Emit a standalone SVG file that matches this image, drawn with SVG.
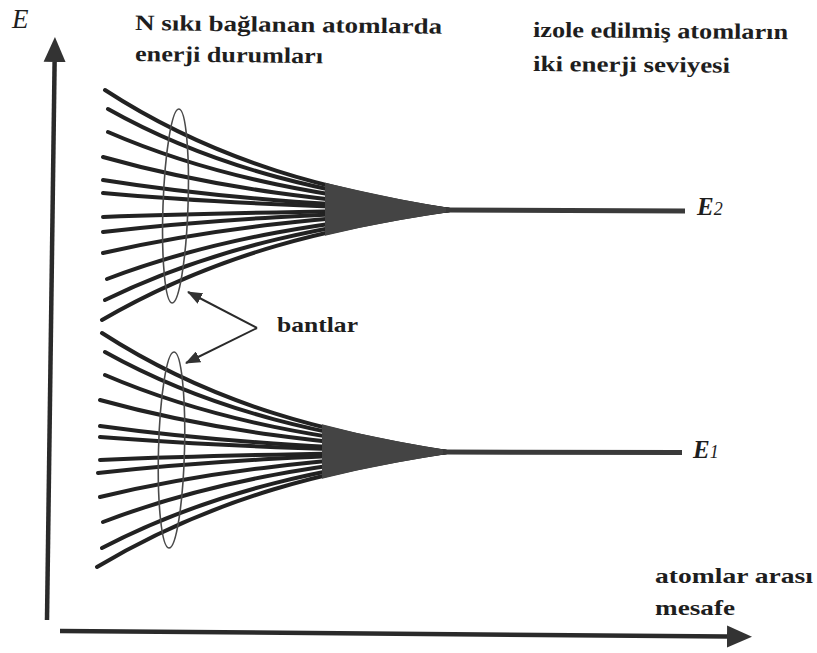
<svg xmlns="http://www.w3.org/2000/svg" width="817" height="653" viewBox="0 0 817 653">
<style>
.lbl{font-family:"Liberation Serif","Times New Roman",serif;font-weight:bold;font-size:22px;fill:#1e1e1e}
.it{font-family:"Liberation Serif","Times New Roman",serif;font-style:italic;fill:#1e1e1e}
.lvl{fill:none;stroke:#222;stroke-width:4;stroke-linecap:round}
.wedge{fill:#444;stroke:none}
.eline{stroke:#3a3a3a;stroke-width:5;fill:none}
.ell{fill:none;stroke:#4a4a4a;stroke-width:1.6}
.axis{stroke:#2a2a2a;stroke-width:4.5;fill:none}
.ptr{stroke:#2a2a2a;stroke-width:2;fill:none}
</style>
<defs>
<marker id="axHead" markerUnits="userSpaceOnUse" viewBox="0 -12 25 24" markerWidth="25" markerHeight="24" refX="0" refY="0" orient="auto">
<path d="M0,-11 L25,0 L0,11 Z" fill="#333"/>
</marker>
<marker id="ptrHead" markerUnits="userSpaceOnUse" viewBox="0 0 15 12" markerWidth="15" markerHeight="12" refX="14" refY="6" orient="auto">
<path d="M0,0 L15,6 L0,12 Z" fill="#333"/>
</marker>
</defs>

<g id="axes">
<path class="axis" d="M47,620 L54.6,62" marker-end="url(#axHead)"/>
<path class="axis" d="M60,631 L727,636.5" marker-end="url(#axHead)"/>
</g>

<g id="upper-band">
<path class="lvl" d="M105,90 C218.7,164 334.3,191.5 450,210"/>
<path class="lvl" d="M108,109 C218.7,171.3 334.3,194.4 450,210"/>
<path class="lvl" d="M108,132 C218.7,180.1 334.3,198 450,210"/>
<path class="lvl" d="M103,157 C218.7,189.7 334.3,201.8 450,210"/>
<path class="lvl" d="M103,180 C218.7,198.5 334.3,205.4 450,210"/>
<path class="lvl" d="M103,193 C218.7,203.5 334.3,207.4 450,210"/>
<path class="lvl" d="M103,217 C218.7,212.7 334.3,211.1 450,210"/>
<path class="lvl" d="M103,232 C218.7,218.4 334.3,213.4 450,210"/>
<path class="lvl" d="M103,253 C218.7,226.5 334.3,216.6 450,210"/>
<path class="lvl" d="M107,279 C218.7,236.4 334.3,220.6 450,210"/>
<path class="lvl" d="M105,300 C218.7,244.5 334.3,223.9 450,210"/>
<path class="lvl" d="M102,320 C218.7,252.1 334.3,226.9 450,210"/>
<path class="wedge" d="M325,182.8 L360,190.7 L400,199.2 L430,204.7 L450,208 L450,212 L430,215 L400,220.1 L360,227.8 L325,235.8 Z"/>
<path class="eline" d="M446,210 L685,211"/>
<ellipse class="ell" cx="175.5" cy="206" rx="12.5" ry="97" transform="rotate(2 175.5 206)"/>
</g>

<g id="lower-band">
<path class="lvl" d="M102,333 C215.7,406.4 331.3,433.7 447,452"/>
<path class="lvl" d="M105,352 C215.7,413.7 331.3,436.6 447,452"/>
<path class="lvl" d="M105,375 C215.7,422.5 331.3,440.1 447,452"/>
<path class="lvl" d="M100,400 C215.7,432.1 331.3,444 447,452"/>
<path class="lvl" d="M100,426 C215.7,442 331.3,448 447,452"/>
<path class="lvl" d="M100,437 C215.7,446.3 331.3,449.7 447,452"/>
<path class="lvl" d="M100,460 C215.7,455.1 331.3,453.2 447,452"/>
<path class="lvl" d="M98,473 C215.7,460 331.3,455.2 447,452"/>
<path class="lvl" d="M100,497 C215.7,469.2 331.3,458.9 447,452"/>
<path class="lvl" d="M103,522 C215.7,478.8 331.3,462.8 447,452"/>
<path class="lvl" d="M102,548 C215.7,488.8 331.3,466.8 447,452"/>
<path class="lvl" d="M97,567 C215.7,496 331.3,469.7 447,452"/>
<path class="wedge" d="M322,424.3 L357,432.9 L397,441.3 L427,446.7 L447,450 L447,454 L427,457.2 L397,462.5 L357,470.6 L322,478.8 Z"/>
<path class="eline" d="M443,452 L682,452.5"/>
<ellipse class="ell" cx="171.5" cy="450" rx="13" ry="98" transform="rotate(1.5 171.5 450)"/>
</g>

<g id="connectors">
<path class="ptr" d="M257,328 L188,292" marker-end="url(#ptrHead)"/>
<path class="ptr" d="M257,328 L186,363" marker-end="url(#ptrHead)"/>
</g>

<g id="labels">
<text class="it" x="12" y="28" font-size="27">E</text>
<text class="lbl" x="135" y="30" textLength="307" lengthAdjust="spacingAndGlyphs" transform="rotate(0.7 135 30)">N sıkı bağlanan atomlarda</text>
<text class="lbl" x="135" y="61" textLength="188" lengthAdjust="spacingAndGlyphs" transform="rotate(0.7 135 61)">enerji durumları</text>
<text class="lbl" x="533" y="37" textLength="255" lengthAdjust="spacingAndGlyphs" transform="rotate(0.5 533 37)">izole edilmiş atomların</text>
<text class="lbl" x="533" y="71" textLength="197" lengthAdjust="spacingAndGlyphs" transform="rotate(0.5 533 71)">iki enerji seviyesi</text>
<text class="lbl" x="277" y="332" textLength="81" lengthAdjust="spacingAndGlyphs">bantlar</text>
<text class="lbl" x="655" y="583" textLength="158" lengthAdjust="spacingAndGlyphs">atomlar arası</text>
<text class="lbl" x="655" y="615" textLength="80" lengthAdjust="spacingAndGlyphs">mesafe</text>
<text class="it" x="697" y="215" font-size="25" font-weight="bold">E<tspan font-size="18" font-weight="normal">2</tspan></text>
<text class="it" x="693" y="458" font-size="25" font-weight="bold">E<tspan font-size="18" font-weight="normal">1</tspan></text>
</g>
</svg>
